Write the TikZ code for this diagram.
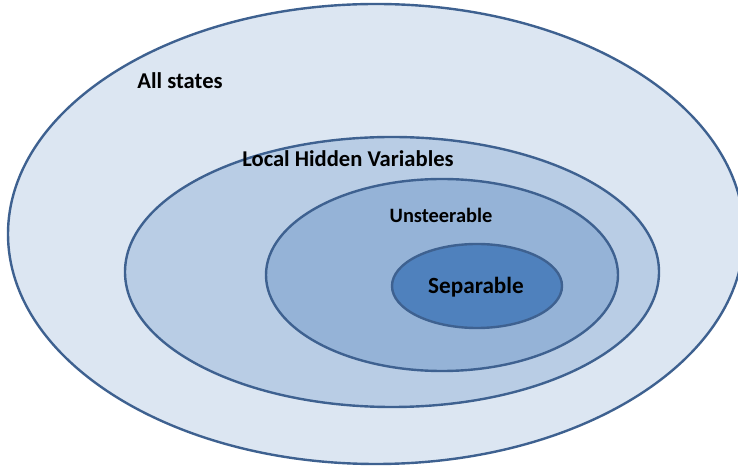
\documentclass[tikz,border=0pt]{standalone}
\usepackage{fontspec}
\setmainfont{Carlito}
\usepackage{tikz}
\usetikzlibrary{positioning}

\definecolor{rim}{RGB}{62,97,144}
\definecolor{allfill}{RGB}{220,230,242}
\definecolor{lhvfill}{RGB}{185,205,229}
\definecolor{unsfill}{RGB}{149,179,215}
\definecolor{sepfill}{RGB}{79,129,189}

\begin{document}
\begin{tikzpicture}[
      x=0.5pt,y=-0.5pt,
      set/.style={draw=rim,line width=1.2pt},
      lbl/.style={font=\bfseries\fontsize{11.3}{13}\selectfont,inner sep=0pt}
    ]
      \useasboundingbox (0,0) rectangle (738,469);
      \clip (0,0) rectangle (738,469);
      \fill[white] (0,0) rectangle (738,469);

      % nested sets
      \draw[set,fill=allfill] (376,234) ellipse [x radius=368,y radius=230];
      \draw[set,fill=lhvfill] (392,272) ellipse [x radius=267,y radius=135];
      \draw[set,fill=unsfill] (442,275) ellipse [x radius=176,y radius=96];
      \draw[set,fill=sepfill] (477,286) ellipse [x radius=85,y radius=42];

      \node[lbl] (all) at (180,81) {All states};
      \node[lbl] (lhv) at (348,159) {Local Hidden Variables};
      \node[lbl,font=\bfseries\fontsize{10.2}{12}\selectfont] (uns) at (441,215) {Unsteerable};
      \node[lbl,font=\bfseries\fontsize{11.6}{14}\selectfont] (sep) at (476,287) {Separable};
    \end{tikzpicture}
\end{document}
